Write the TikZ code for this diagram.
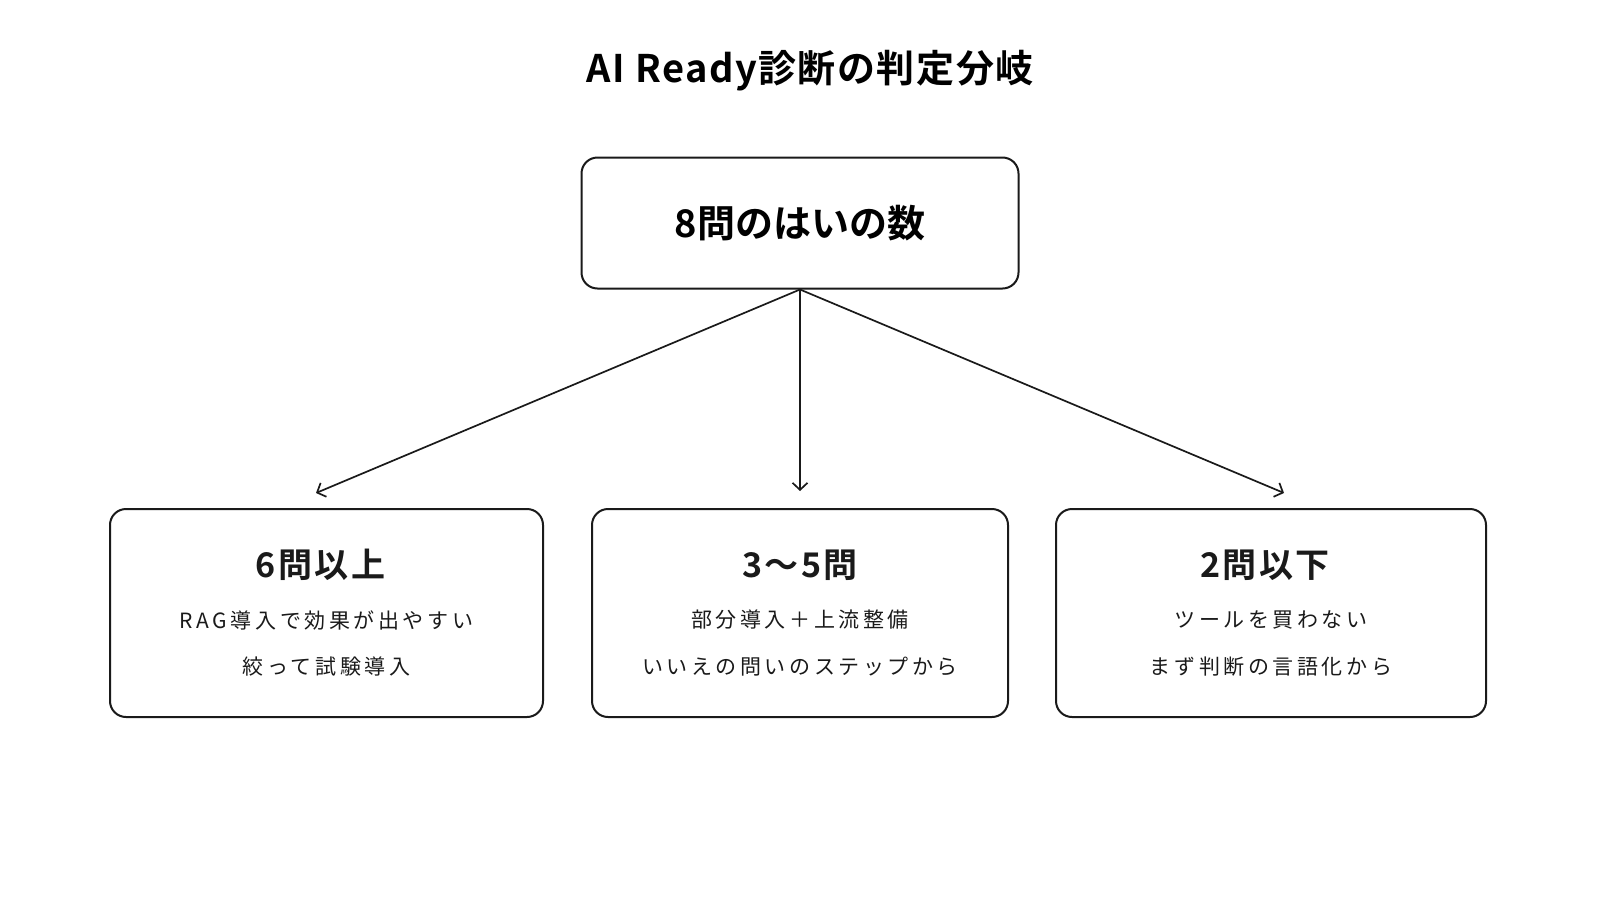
\documentclass[tikz,border=0pt]{standalone}
\usepackage{fontspec}
\setmainfont{Noto Sans CJK JP}[BoldFont={Noto Sans CJK JP Bold}]
\newfontfamily\bodyfont[LetterSpace=17]{Noto Sans CJK JP}
\newfontfamily\headfont[LetterSpace=7]{Noto Sans CJK JP Bold}
\newfontfamily\titlefont[LetterSpace=4]{Noto Sans CJK JP Bold}
\usetikzlibrary{arrows.meta}
\definecolor{ink}{HTML}{1A1A1A}
\tikzset{
  box/.style={draw=ink, line width=2pt, rounded corners=16pt},
  headtext/.style={font=\headfont\fontsize{34}{40}\selectfont, text=ink},
  bodytext/.style={font=\bodyfont\fontsize{21}{26}\selectfont, text=ink},
  branch/.style={draw=ink, line width=1.7pt, -{Straight Barb[length=7pt,width=15pt,line width=1.7pt]}}
}
\begin{document}
\begin{tikzpicture}[x=1pt,y=-1pt]
\useasboundingbox[fill=white] (0,0) rectangle (1600,900);
\node[font=\titlefont\fontsize{38}{44}\selectfont] (title) at (810,71) {AI Ready診断の判定分岐};

\node[box, minimum width=437pt, minimum height=131pt,
      font=\bfseries\fontsize{38}{44}\selectfont] (count) at (800,223) {8問のはいの数};

\node[box, minimum width=433pt, minimum height=208pt] (many) at (326.5,613) {};
\node[headtext] (manyHead) at ([xshift=-6pt,yshift=48pt]many.center) {6問以上};
\node[bodytext] (manyA) at ([yshift=-7pt]many.center) {RAG導入で効果が出やすい};
\node[bodytext] (manyB) at ([yshift=-54pt]many.center) {絞って試験導入};

\node[box, minimum width=416pt, minimum height=208pt] (mid) at (800,613) {};
\node[headtext] (midHead) at ([yshift=48pt]mid.center) {3～5問};
\node[bodytext] (midA) at ([yshift=-7pt]mid.center) {部分導入＋上流整備};
\node[bodytext] (midB) at ([yshift=-54pt]mid.center) {いいえの問いのステップから};

\node[box, minimum width=430pt, minimum height=208pt] (few) at (1271,613) {};
\node[headtext] (fewHead) at ([xshift=-6pt,yshift=48pt]few.center) {2問以下};
\node[bodytext] (fewA) at ([yshift=-7pt]few.center) {ツールを買わない};
\node[bodytext] (fewB) at ([yshift=-54pt]few.center) {まず判断の言語化から};

% arrow tips stop short of the boxes
\coordinate (tipMany) at (316,493);
\coordinate (tipMid) at (800,491);
\coordinate (tipFew) at (1284,493);
\draw[branch] (count.south) -- (tipMany);
\draw[branch] (count.south) -- (tipMid);
\draw[branch] (count.south) -- (tipFew);
\end{tikzpicture}
\end{document}
